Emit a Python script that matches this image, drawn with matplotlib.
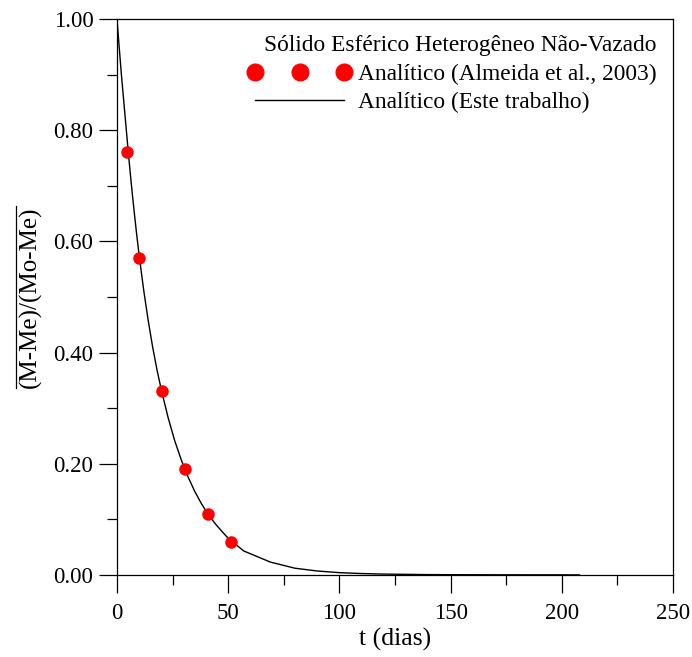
import numpy as np
import matplotlib.pyplot as plt
from matplotlib.lines import Line2D
from matplotlib.ticker import MultipleLocator

plt.rcParams['font.family'] = ['Liberation Serif', 'DejaVu Serif']

# pontos da solucao de Almeida et al. (2003)
t_ref = [4.5, 9.8, 20.1, 30.4, 41.0, 51.3]
m_ref = [0.76, 0.57, 0.33, 0.19, 0.11, 0.06]

# curva deste trabalho
t_curve = [0, 1, 2, 3, 4, 5, 6, 7, 8, 9, 10, 12, 14, 16, 18, 20, 23, 26,
           29, 32, 35, 38, 41, 44, 47, 50, 57, 69, 80, 90, 100, 110, 120,
           140, 160, 180, 208]
m_curve = [1.0, 0.95, 0.90, 0.855, 0.81, 0.765, 0.722, 0.682, 0.644,
           0.608, 0.574, 0.513, 0.459, 0.411, 0.369, 0.332, 0.283, 0.241,
           0.206, 0.176, 0.150, 0.128, 0.109, 0.093, 0.079, 0.066, 0.043,
           0.023, 0.012, 0.007, 0.004, 0.0024, 0.0014, 0.0005, 0.0002,
           0.0001, 0.0]

fig = plt.figure(figsize=(6.92, 6.57), dpi=100)
axes = fig.add_axes([0.169, 0.125, 0.8035, 0.846])

axes.plot(t_curve, m_curve, color='black', linewidth=1.0,
          label='Analítico (Este trabalho)')
axes.plot(t_ref, m_ref, linestyle='', marker='o', color='red',
          markersize=8, label='Analítico (Almeida et al., 2003)')

axes.set_xlim(0, 250)
axes.set_ylim(0, 1.0)
axes.xaxis.set_major_locator(MultipleLocator(50))
axes.xaxis.set_minor_locator(MultipleLocator(25))
axes.yaxis.set_major_locator(MultipleLocator(0.2))
axes.yaxis.set_minor_locator(MultipleLocator(0.1))
axes.yaxis.set_major_formatter(lambda v, pos: f'{v:.2f}')
axes.tick_params(which='major', direction='out', length=13, width=0.9,
                 labelsize=16.5, pad=4)
axes.tick_params(axis='x', which='major', pad=7)
axes.tick_params(which='minor', direction='out', length=7, width=0.9)
for spine in axes.spines.values():
    spine.set_linewidth(0.9)

axes.set_xlabel('t (dias)', fontsize=18.5, labelpad=3)
ylab = axes.set_ylabel('(M-Me)/(Mo-Me)', fontsize=18, labelpad=8)

handles, labels = axes.get_legend_handles_labels()
leg = axes.legend(handles[::-1], labels[::-1], loc='upper right',
                  title='Sólido Esférico Heterogêneo Não-Vazado',
                  frameon=False, fontsize=16.8, title_fontsize=16.8,
                  numpoints=3, markerscale=1.5, handlelength=4.4,
                  handletextpad=0.3, borderaxespad=0.3, labelspacing=0.3,
                  borderpad=0.4)
leg._legend_box.align = 'right'

# barra sobre o rotulo do eixo y
fig.canvas.draw()
bb = ylab.get_window_extent()
x_bar = bb.x0 - 3
fig.add_artist(Line2D([x_bar, x_bar], [bb.y0, bb.y1], color='black',
                      linewidth=0.9, transform=None))

fig.savefig('out.png', dpi=100)
